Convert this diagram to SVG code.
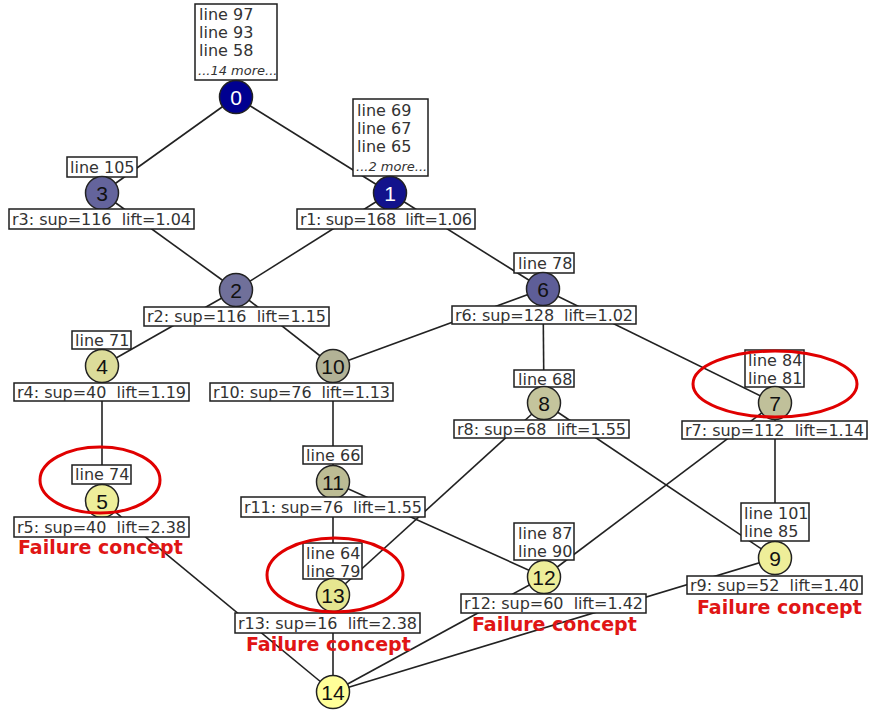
<svg xmlns="http://www.w3.org/2000/svg" width="870" height="713" viewBox="0 0 870 713">
<style>
.bg{fill:#ffffff}
.e{stroke:#222;stroke-width:1.6;fill:none}
.b{fill:#ffffff;stroke:#1e1e1e;stroke-width:1.5}
.t{font-family:"DejaVu Sans",Verdana,sans-serif;font-size:16px;fill:#333;white-space:pre}
.m{font-family:"DejaVu Sans",Verdana,sans-serif;font-size:13px;font-style:italic;fill:#333}
.c{stroke:#222;stroke-width:1.5}
.n{font-family:"Liberation Sans",Arial,sans-serif;font-size:21px;text-anchor:middle;fill:#111}
.nw{fill:#ffffff}
.f{font-family:"DejaVu Sans",Verdana,sans-serif;font-size:19px;font-weight:bold;fill:#e01515}
.o{fill:none;stroke:#e00000;stroke-width:3}
</style>
<rect class="bg" x="0" y="0" width="870" height="713"/>
<g id="connectors">
<line class="e" x1="236" y1="97" x2="102" y2="193"/>
<line class="e" x1="236" y1="97" x2="390" y2="193"/>
<line class="e" x1="102" y1="193" x2="236" y2="290"/>
<line class="e" x1="390" y1="193" x2="236" y2="290"/>
<line class="e" x1="390" y1="193" x2="543" y2="289"/>
<line class="e" x1="236" y1="290" x2="102" y2="366"/>
<line class="e" x1="236" y1="290" x2="333" y2="366"/>
<line class="e" x1="543" y1="289" x2="333" y2="366"/>
<line class="e" x1="543" y1="289" x2="544" y2="403"/>
<line class="e" x1="543" y1="289" x2="775" y2="403"/>
<line class="e" x1="102" y1="366" x2="102" y2="501"/>
<line class="e" x1="333" y1="366" x2="333" y2="482"/>
<line class="e" x1="544" y1="403" x2="333" y2="595"/>
<line class="e" x1="544" y1="403" x2="775" y2="558"/>
<line class="e" x1="775" y1="403" x2="544" y2="577"/>
<line class="e" x1="775" y1="403" x2="775" y2="558"/>
<line class="e" x1="333" y1="482" x2="333" y2="595"/>
<line class="e" x1="333" y1="482" x2="544" y2="577"/>
<line class="e" x1="102" y1="501" x2="333" y2="692"/>
<line class="e" x1="333" y1="595" x2="333" y2="692"/>
<line class="e" x1="544" y1="577" x2="333" y2="692"/>
<line class="e" x1="775" y1="558" x2="333" y2="692"/>
</g>
<g id="node0">
<rect class="b" x="195" y="4" width="82" height="76"/>
<text class="t" x="199" y="20">line 97</text>
<text class="t" x="199" y="38">line 93</text>
<text class="t" x="199" y="56">line 58</text>
<text class="m" x="198" y="75">...14 more...</text>
<circle class="c" cx="236" cy="97" r="16.5" fill="#000090"/>
<text class="n nw" x="236" y="104.5">0</text>
</g>
<g id="node1">
<rect class="b" x="353" y="99" width="75" height="77"/>
<text class="t" x="357" y="116">line 69</text>
<text class="t" x="357" y="134">line 67</text>
<text class="t" x="357" y="152">line 65</text>
<text class="m" x="356" y="171">...2 more...</text>
<circle class="c" cx="390" cy="193" r="16.5" fill="#12128c"/>
<text class="n nw" x="390" y="200.5">1</text>
<rect class="b" x="297" y="209" width="178" height="20"/>
<text class="t" x="300" y="225" textLength="172">r1: sup=168  lift=1.06</text>
</g>
<g id="node3">
<rect class="b" x="67" y="157" width="70" height="20"/>
<text class="t" x="70" y="173">line 105</text>
<circle class="c" cx="102" cy="193" r="16.5" fill="#64649c"/>
<text class="n" x="102" y="200.5" fill="#1a1a30">3</text>
<rect class="b" x="9" y="209" width="185" height="20"/>
<text class="t" x="12" y="225" textLength="179">r3: sup=116  lift=1.04</text>
</g>
<g id="node2">
<circle class="c" cx="236" cy="290" r="16.5" fill="#70709a"/>
<text class="n" x="236" y="297.5">2</text>
<rect class="b" x="144" y="307" width="185" height="19"/>
<text class="t" x="147" y="322" textLength="179">r2: sup=116  lift=1.15</text>
</g>
<g id="node6">
<rect class="b" x="514" y="253" width="60" height="20"/>
<text class="t" x="518" y="269">line 78</text>
<circle class="c" cx="543" cy="289" r="16.5" fill="#5e5e98"/>
<text class="n" x="543" y="296.5">6</text>
<rect class="b" x="452" y="306" width="184" height="18"/>
<text class="t" x="455" y="321" textLength="178">r6: sup=128  lift=1.02</text>
</g>
<g id="node4">
<rect class="b" x="72" y="331" width="59" height="18"/>
<text class="t" x="75" y="346">line 71</text>
<circle class="c" cx="102" cy="366" r="16.5" fill="#dcdc9a"/>
<text class="n" x="102" y="373.5">4</text>
<rect class="b" x="14" y="383" width="175" height="18"/>
<text class="t" x="17" y="398" textLength="169">r4: sup=40  lift=1.19</text>
</g>
<g id="node10">
<circle class="c" cx="333" cy="366" r="16.5" fill="#b2b296"/>
<text class="n" x="333" y="373.5">10</text>
<rect class="b" x="210" y="383" width="183" height="18"/>
<text class="t" x="213" y="398" textLength="177">r10: sup=76  lift=1.13</text>
</g>
<g id="node8">
<rect class="b" x="514" y="370" width="60" height="17"/>
<text class="t" x="518" y="385">line 68</text>
<circle class="c" cx="544" cy="403" r="16.5" fill="#c4c49c"/>
<text class="n" x="544" y="410.5">8</text>
<rect class="b" x="454" y="420" width="175" height="18"/>
<text class="t" x="457" y="435" textLength="169">r8: sup=68  lift=1.55</text>
</g>
<g id="node7">
<rect class="b" x="745" y="350" width="59" height="37"/>
<text class="t" x="748" y="366">line 84</text>
<text class="t" x="748" y="384">line 81</text>
<circle class="c" cx="775" cy="403" r="16.5" fill="#c0c09a"/>
<text class="n" x="775" y="410.5">7</text>
<rect class="b" x="682" y="421" width="185" height="18"/>
<text class="t" x="685" y="436" textLength="179">r7: sup=112  lift=1.14</text>
</g>
<g id="node5">
<rect class="b" x="72" y="465" width="59" height="19"/>
<text class="t" x="75" y="480">line 74</text>
<circle class="c" cx="102" cy="501" r="16.5" fill="#eeee9a"/>
<text class="n" x="102" y="508.5">5</text>
<rect class="b" x="14" y="517" width="175" height="20"/>
<text class="t" x="17" y="533" textLength="169">r5: sup=40  lift=2.38</text>
<text class="f" x="18" y="554">Failure concept</text>
</g>
<g id="node11">
<rect class="b" x="303" y="446" width="59" height="18"/>
<text class="t" x="306" y="461">line 66</text>
<circle class="c" cx="333" cy="482" r="16.5" fill="#bcbc94"/>
<text class="n" x="333" y="489.5">11</text>
<rect class="b" x="241" y="497" width="184" height="20"/>
<text class="t" x="244" y="513" textLength="178">r11: sup=76  lift=1.55</text>
</g>
<g id="node13">
<rect class="b" x="303" y="543" width="59" height="36"/>
<text class="t" x="306" y="559">line 64</text>
<text class="t" x="306" y="577">line 79</text>
<circle class="c" cx="333" cy="595" r="16.5" fill="#e6e690"/>
<text class="n" x="333" y="602.5">13</text>
<rect class="b" x="235" y="613" width="185" height="20"/>
<text class="t" x="238" y="629" textLength="179">r13: sup=16  lift=2.38</text>
<text class="f" x="246" y="651">Failure concept</text>
</g>
<g id="node12">
<rect class="b" x="514" y="523" width="60" height="37"/>
<text class="t" x="518" y="539">line 87</text>
<text class="t" x="518" y="557">line 90</text>
<circle class="c" cx="544" cy="577" r="16.5" fill="#eeee99"/>
<text class="n" x="544" y="584.5">12</text>
<rect class="b" x="461" y="594" width="185" height="19"/>
<text class="t" x="464" y="609" textLength="179">r12: sup=60  lift=1.42</text>
<text class="f" x="472" y="631">Failure concept</text>
</g>
<g id="node9">
<rect class="b" x="741" y="503" width="68" height="38"/>
<text class="t" x="744" y="519">line 101</text>
<text class="t" x="744" y="537">line 85</text>
<circle class="c" cx="775" cy="558" r="16.5" fill="#eeee99"/>
<text class="n" x="775" y="565.5">9</text>
<rect class="b" x="687" y="576" width="175" height="18"/>
<text class="t" x="690" y="591" textLength="169">r9: sup=52  lift=1.40</text>
<text class="f" x="697" y="614">Failure concept</text>
</g>
<g id="node14">
<circle class="c" cx="333" cy="692" r="16.5" fill="#ffff99"/>
<text class="n" x="333" y="699.5">14</text>
</g>
<g id="highlights">
<ellipse class="o" cx="100" cy="480" rx="60" ry="33"/>
<ellipse class="o" cx="335" cy="575" rx="68" ry="37"/>
<ellipse class="o" cx="775" cy="384" rx="82" ry="33"/>
</g>
</svg>
